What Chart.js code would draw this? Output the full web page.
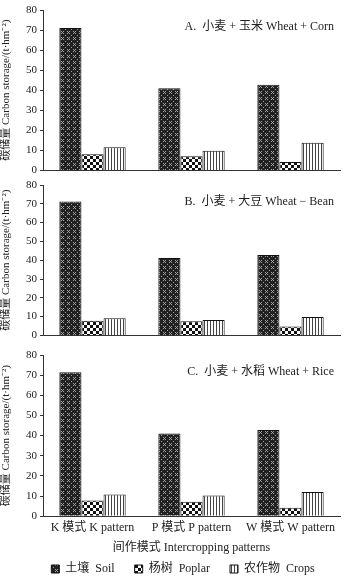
<!DOCTYPE html>
<html>
<head>
<meta charset="utf-8">
<script src="https://cdn.jsdelivr.net/npm/chart.js@4.4.1/dist/chart.umd.min.js"></script>
<style>
  html, body { margin: 0; padding: 0; background: #fff; }
  #wrap { position: relative; width: 346px; height: 579px; overflow: hidden; }
  canvas { position: absolute; left: 0; }
</style>
</head>
<body>
<div id="wrap">
  <canvas id="chart-a" width="346" height="180" style="top:0"></canvas>
  <canvas id="chart-b" width="346" height="170" style="top:175px"></canvas>
  <canvas id="chart-c" width="346" height="245" style="top:340px"></canvas>
</div>
<script>
// ── data ──
const categories = ['K 模式 K pattern', 'P 模式 P pattern', 'W 模式 W pattern'];
const seriesNames = ['土壤  Soil', '杨树  Poplar', '农作物  Crops'];

const soilA   = [71.0, 41.0, 42.7];
const poplarA = [8.0, 7.0, 4.2];
const cropsA  = [11.5, 9.8, 13.8];

const soilB   = [71.2, 41.2, 42.8];
const poplarB = [7.8, 7.5, 4.8];
const cropsB  = [9.1, 8.2, 9.8];

const soilC   = [71.5, 41.0, 42.8];
const poplarC = [7.8, 7.2, 4.2];
const cropsC  = [10.8, 10.3, 12.0];

const yMax = 80, yStep = 10;
const yTitle = '碳储量 Carbon storage/(t·hm⁻²)';
const xTitle = '间作模式 Intercropping patterns';

const FONT = "'Liberation Serif', 'Noto Sans CJK SC', serif";

// ── fill patterns ──
function makePattern(w, h, draw) {
  const c = document.createElement('canvas');
  c.width = w; c.height = h;
  draw(c.getContext('2d'));
  return c.getContext('2d').createPattern(c, 'repeat');
}
const soilFill = makePattern(6, 6, g => {
  g.fillStyle = '#222'; g.fillRect(0, 0, 6, 6);
  g.fillStyle = '#a0a0a0';
  [[1,1],[3,1],[2,2],[1,3],[3,3],[5,5]].forEach(([x,y]) => g.fillRect(x, y, 1, 1));
});
const poplarFill = makePattern(6, 6, g => {
  g.fillStyle = '#fff'; g.fillRect(0, 0, 6, 6);
  g.fillStyle = '#111';
  g.fillRect(0, 0, 3, 3); g.fillRect(3, 3, 3, 3);
});
const cropsFill = makePattern(3, 1, g => {
  g.fillStyle = '#fff'; g.fillRect(0, 0, 3, 1);
  g.fillStyle = '#444'; g.fillRect(0, 0, 1, 1);
});
const fills = [soilFill, poplarFill, cropsFill];

// panel caption drawn inside the plot area, top right
const panelLabel = {
  id: 'panelLabel',
  afterDraw(chart, args, opts) {
    const { ctx, chartArea } = chart;
    ctx.save();
    ctx.font = '12px ' + FONT;
    ctx.fillStyle = '#222';
    ctx.textAlign = 'right';
    ctx.textBaseline = 'middle';
    ctx.fillText(opts.text, chartArea.right - 6, chartArea.top + 17);
    ctx.restore();
  }
};

// nudge the legend a little to the right, as in the original figure
const legendShift = {
  id: 'legendShift',
  afterLayout(chart) {
    const l = chart.legend;
    if (l && l.options.display) { l.left += 13; l.right += 13; }
  }
};

function buildPanel(id, values, label, padTop, bottom) {
  const datasets = values.map((v, i) => ({
    label: seriesNames[i] + (i < 2 ? '    ' : ''),
    data: v,
    backgroundColor: fills[i],
    borderColor: '#111',
    borderWidth: 1,
    categoryPercentage: 0.67,
    barPercentage: 1.0,
  }));
  return new Chart(document.getElementById(id), {
    type: 'bar',
    data: { labels: categories, datasets },
    plugins: [panelLabel, legendShift],
    options: {
      responsive: false, animation: false,
      layout: { padding: { top: padTop, right: 6, left: 0, bottom: 0 } },
      plugins: {
        panelLabel: { text: label },
        tooltip: { enabled: false },
        legend: bottom ? {
          display: true, position: 'bottom',
          labels: { boxWidth: 8, boxHeight: 8, padding: 8, color: '#222', font: { family: FONT, size: 12 } }
        } : { display: false },
      },
      scales: {
        y: {
          min: 0, max: yMax,
          ticks: { stepSize: yStep, padding: 3, color: '#222', font: { family: FONT, size: 11 } },
          grid: { drawOnChartArea: false, tickLength: 3, color: '#333' },
          border: { color: '#333' },
          title: { display: true, text: yTitle, color: '#222', padding: 0, font: { family: FONT, size: 11 } },
          afterFit: s => { s.width = 43; },
        },
        x: {
          grid: { display: false, drawTicks: false },
          border: { color: '#333' },
          ticks: { display: bottom, color: '#222', padding: 4, font: { family: FONT, size: 12 } },
          title: { display: bottom, text: xTitle, color: '#222', padding: { top: 2, bottom: 0 }, font: { family: FONT, size: 12 } },
          afterFit: s => { if (!bottom) s.height = 5; },
        }
      }
    }
  });
}

buildPanel('chart-a', [soilA, poplarA, cropsA], 'A.  小麦 + 玉米 Wheat + Corn', 10, false);
buildPanel('chart-b', [soilB, poplarB, cropsB], 'B.  小麦 + 大豆 Wheat − Bean', 10, false);
buildPanel('chart-c', [soilC, poplarC, cropsC], 'C.  小麦 + 水稻 Wheat + Rice', 15, true);
</script>
</body>
</html>
